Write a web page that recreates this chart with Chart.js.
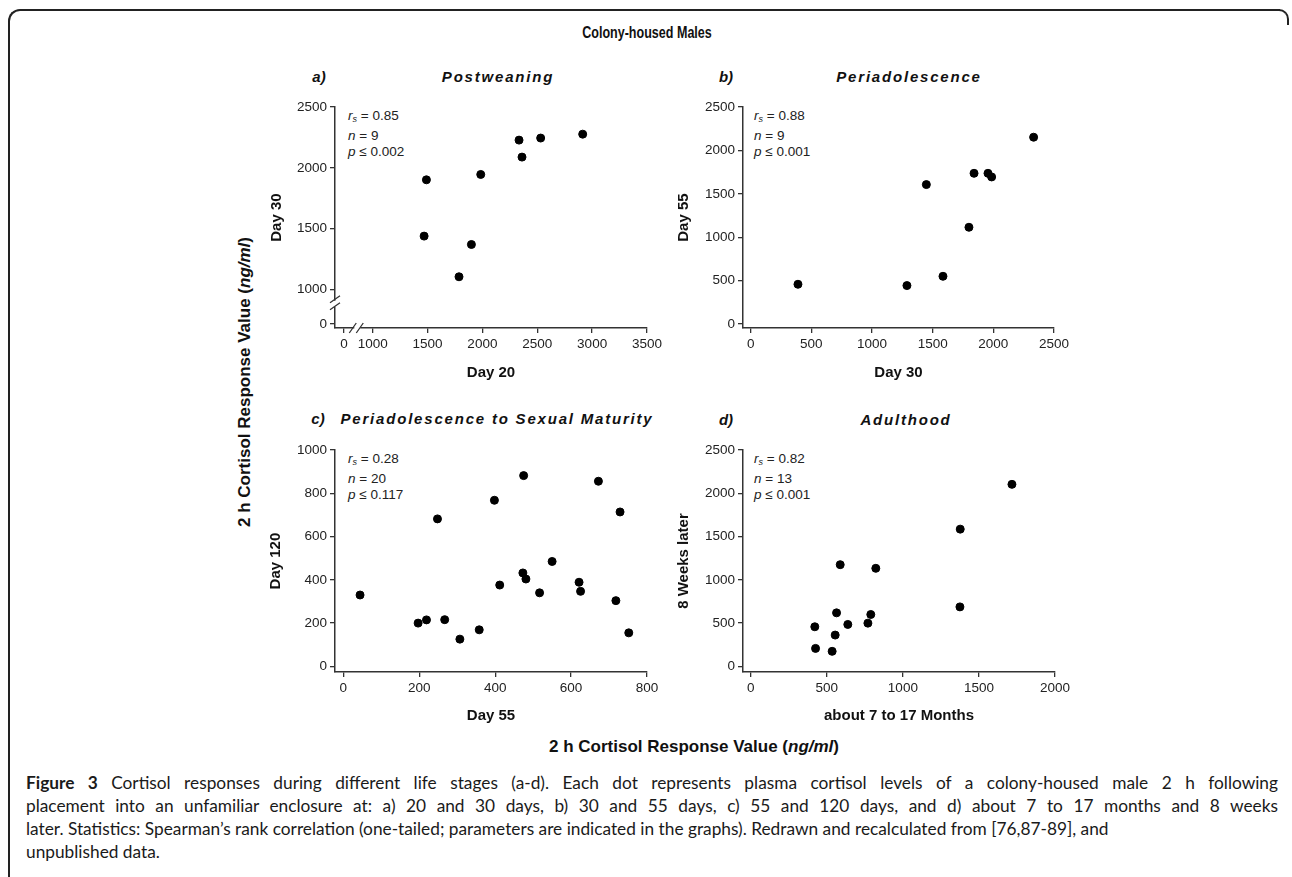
<!DOCTYPE html>
<html>
<head>
<meta charset="utf-8">
<script src="https://cdn.jsdelivr.net/npm/chart.js@4.4.0/dist/chart.umd.min.js"></script>
<style>
body{margin:0;background:#fff;width:1292px;height:877px;overflow:hidden;position:relative;font-family:"Liberation Sans",Arial,sans-serif;color:#111}
.t{position:absolute;white-space:nowrap;transform:translate(-50%,-50%)}
.pt{font-weight:bold;font-style:italic;font-size:15px;letter-spacing:1.8px}
.lab{font-weight:bold;font-style:italic;font-size:15px}
.stat{position:absolute;font-size:13.5px;line-height:16.5px;white-space:nowrap;color:#222}
.stat i{font-style:italic}
.stat sub{font-size:9px;vertical-align:-2px;font-style:italic}
.box{position:absolute}
.frameL{position:absolute;left:8px;top:9px;width:1270px;height:900px;border-left:2px solid #222;border-top:2px solid #222;border-top-left-radius:12px}
.frameR{position:absolute;left:1268px;top:9px;width:19px;height:14px;border-right:2px solid #222;border-top:2px solid #222;border-top-right-radius:10px}
.cap{position:absolute;left:26px;width:1252px;font-family:Lato,"Open Sans",sans-serif;font-size:17.3px;line-height:23px;white-space:nowrap;color:#1a1a1a}
.cap.j{text-align:justify;text-align-last:justify}
</style>
</head>
<body>
<div class="frameL"></div>
<div class="frameR"></div>

<div class="t" style="left:647px;top:32px;font-weight:bold;font-size:16.5px;transform:translate(-50%,-50%) scaleX(0.76)">Colony-housed Males</div>

<div class="t lab" style="left:319px;top:76px">a)</div>
<div class="t pt" style="left:498px;top:76px">Postweaning</div>
<div class="t lab" style="left:726px;top:76px">b)</div>
<div class="t pt" style="left:909px;top:76px">Periadolescence</div>
<div class="t lab" style="left:318px;top:418px">c)</div>
<div class="t pt" style="left:497px;top:418px">Periadolescence to Sexual Maturity</div>
<div class="t lab" style="left:726px;top:419px">d)</div>
<div class="t pt" style="left:906px;top:419px">Adulthood</div>

<div class="stat" style="left:348px;top:108px"><i>r</i><sub>s</sub> = 0.85<br><i>n</i> = 9<br><i>p</i> ≤ 0.002</div>
<div class="stat" style="left:754px;top:108px"><i>r</i><sub>s</sub> = 0.88<br><i>n</i> = 9<br><i>p</i> ≤ 0.001</div>
<div class="stat" style="left:348px;top:451px"><i>r</i><sub>s</sub> = 0.28<br><i>n</i> = 20<br><i>p</i> ≤ 0.117</div>
<div class="stat" style="left:754px;top:451px"><i>r</i><sub>s</sub> = 0.82<br><i>n</i> = 13<br><i>p</i> ≤ 0.001</div>

<div class="t" style="left:245px;top:382px;transform:translate(-50%,-50%) rotate(-90deg);font-weight:bold;font-size:17px">2 h Cortisol Response Value (<i>ng/ml</i>)</div>
<div class="t" style="left:694px;top:747px;font-weight:bold;font-size:17px">2 h Cortisol Response Value (<i>ng/ml</i>)</div>

<div class="cap j" style="top:771px"><b>Figure 3</b> Cortisol responses during different life stages (a-d). Each dot represents plasma cortisol levels of a colony-housed male 2 h following</div>
<div class="cap j" style="top:794px">placement into an unfamiliar enclosure at: a) 20 and 30 days, b) 30 and 55 days, c) 55 and 120 days, and d) about 7 to 17 months and 8 weeks</div>
<div class="cap" style="top:817px">later. Statistics: Spearman’s rank correlation (one-tailed; parameters are indicated in the graphs). Redrawn and recalculated from [76,87-89], and</div>
<div class="cap" style="top:840px">unpublished data.</div>

<div class="box" id="boxA"><canvas id="chartA"></canvas></div>
<div class="box" id="boxB"><canvas id="chartB"></canvas></div>
<div class="box" id="boxC"><canvas id="chartC"></canvas></div>
<div class="box" id="boxD"><canvas id="chartD"></canvas></div>

<script>
// a) Postweaning: day 20 vs day 30
var postDay20 = [1490, 1469, 1900, 1787, 1985, 2334, 2361, 2531, 2914];
var postDay30 = [1901, 1437, 1368, 1102, 1945, 2228, 2088, 2245, 2277];
// b) Periadolescence: day 30 vs day 55
var periDay30 = [390, 1288, 1585, 1448, 1799, 1841, 1956, 1986, 2332];
var periDay55 = [458, 443, 550, 1607, 1115, 1737, 1737, 1695, 2153];
// c) Periadolescence to sexual maturity: day 55 vs day 120
var matDay55 = [44, 197, 219, 248, 267, 307, 358, 398, 412, 475, 473, 481, 517, 550, 621, 625, 672, 718, 729, 752];
var matDay120 = [330, 200, 215, 682, 216, 126, 169, 768, 376, 882, 432, 404, 340, 485, 389, 347, 856, 304, 714, 155];
// d) Adulthood: 7-17 months vs 8 weeks later
var adultStart = [421, 426, 535, 555, 564, 588, 638, 770, 789, 822, 1375, 1377, 1717];
var adultLater = [457, 207, 173, 361, 618, 1175, 484, 499, 599, 1133, 687, 1586, 2104];

// tick values
var ticksA_x = [1000, 1500, 2000, 2500, 3000, 3500];
var ticksA_y = [1000, 1500, 2000, 2500];
var ticksB = [0, 500, 1000, 1500, 2000, 2500];
var ticksC_x = [0, 200, 400, 600, 800];
var ticksC_y = [0, 200, 400, 600, 800, 1000];
var ticksD_x = [0, 500, 1000, 1500, 2000];
var ticksD_y = [0, 500, 1000, 1500, 2000, 2500];
// panel a has broken axes: the "0" tick sits just below the break
var breakZeroX = 740, breakZeroY = 713;

var tickFont = {family: "Liberation Sans", size: 13.5};
var titleFont = {family: "Liberation Sans", size: 15, weight: 'bold'};

var breakPlugin = {
	id: 'axisBreak',
	afterDraw: function(chart) {
		var c = chart.ctx, xs = chart.scales.x, ys = chart.scales.y, a = chart.chartArea;
		var yb = ys.getPixelForValue(880), xb = xs.getPixelForValue(860);
		c.save();
		c.fillStyle = '#fff';
		c.fillRect(a.left - 3, yb - 3, 6, 6);
		c.fillRect(xb - 3, a.bottom - 3, 6, 6);
		c.strokeStyle = '#333';
		c.lineWidth = 1.3;
		c.beginPath();
		c.moveTo(a.left - 5, yb - 1); c.lineTo(a.left + 5, yb - 8);
		c.moveTo(a.left - 5, yb + 6); c.lineTo(a.left + 5, yb - 1);
		c.moveTo(xb - 8, a.bottom + 5); c.lineTo(xb - 1, a.bottom - 5);
		c.moveTo(xb - 1, a.bottom + 5); c.lineTo(xb + 6, a.bottom - 5);
		c.stroke();
		c.restore();
	}
};

function panel(boxId, canvasId, area, yTitleX, xTitleY, xs, ys, xRange, yRange, xTicks, yTicks, xTitle, yTitle, extra) {
	var off = 9;
	var left = yTitleX - off;
	var top = area.t - 10;
	var wy = area.l - left;
	var hx = xTitleY + off - area.b;
	var box = document.getElementById(boxId);
	box.style.left = left + 'px';
	box.style.top = top + 'px';
	box.style.width = (area.r - left + 22) + 'px';
	box.style.height = (area.b + hx - top) + 'px';

	var pts = [];
	for (var i in xs) {
		pts.push({x: xs[i], y: ys[i]});
	}
	var zx = extra ? extra.zeroX : null, zy = extra ? extra.zeroY : null;

	return new Chart(document.getElementById(canvasId), {
		type: 'scatter',
		data: {
			datasets: [{
				data: pts,
				backgroundColor: '#000',
				borderColor: '#000',
				pointRadius: 4,
				pointHoverRadius: 4
			}]
		},
		options: {
			responsive: true,
			maintainAspectRatio: false,
			animation: false,
			layout: {padding: {left: 0, top: 10, right: 22, bottom: 0}},
			plugins: {legend: {display: false}, tooltip: {enabled: false}},
			scales: {
				x: {
					type: 'linear', min: xRange[0], max: xRange[1],
					afterBuildTicks: function(s) {
						var t = xTicks.slice();
						if (zx !== null) t.unshift(zx);
						s.ticks = t.map(function(v) { return {value: v}; });
					},
					afterFit: function(s) { s.height = hx; },
					ticks: {
						font: tickFont, color: '#222', padding: 3, autoSkip: false, maxRotation: 0,
						callback: function(v) { return v === zx ? '0' : String(v); }
					},
					grid: {drawOnChartArea: false, tickLength: 5, color: '#333', lineWidth: 1.3},
					border: {color: '#333', width: 1.5},
					title: {display: true, text: xTitle, font: titleFont, color: '#111', padding: 0}
				},
				y: {
					type: 'linear', min: yRange[0], max: yRange[1],
					afterBuildTicks: function(s) {
						var t = yTicks.slice();
						if (zy !== null) t.unshift(zy);
						s.ticks = t.map(function(v) { return {value: v}; });
					},
					afterFit: function(s) { s.width = wy; },
					ticks: {
						font: tickFont, color: '#222', padding: 3, autoSkip: false,
						callback: function(v) { return v === zy ? '0' : String(v); }
					},
					grid: {drawOnChartArea: false, tickLength: 5, color: '#333', lineWidth: 1.3},
					border: {color: '#333', width: 1.5},
					title: {display: true, text: yTitle, font: titleFont, color: '#111', padding: 0}
				}
			}
		},
		plugins: extra ? [breakPlugin] : []
	});
}

panel('boxA', 'chartA', {l: 335, t: 106, r: 647, b: 328}, 277, 373,
	postDay20, postDay30, [657, 3500], [680, 2500], ticksA_x, ticksA_y, 'Day 20', 'Day 30',
	{zeroX: breakZeroX, zeroY: breakZeroY});
panel('boxB', 'chartB', {l: 743, t: 106, r: 1054, b: 328}, 684, 373,
	periDay30, periDay55, [-63, 2500], [-46, 2500], ticksB, ticksB, 'Day 30', 'Day 55');
panel('boxC', 'chartC', {l: 335, t: 449, r: 647, b: 672}, 276, 716,
	matDay55, matDay120, [-22, 800], [-26, 1000], ticksC_x, ticksC_y, 'Day 55', 'Day 120');
panel('boxD', 'chartD', {l: 743, t: 449, r: 1055, b: 672}, 684, 716,
	adultStart, adultLater, [-51, 2000], [-66, 2500], ticksD_x, ticksD_y, 'about 7 to 17 Months', '8 Weeks later');
</script>
</body>
</html>
